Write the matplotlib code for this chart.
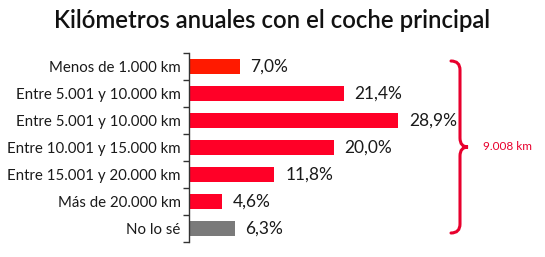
import matplotlib
matplotlib.use('Agg')
import matplotlib.pyplot as plt
from matplotlib.path import Path
from matplotlib.patches import PathPatch
import numpy as np

plt.rcParams['font.family'] = ['Lato', 'DejaVu Sans']

# Data
categories = ['Menos de 1.000 km', 'Entre 5.001 y 10.000 km', 'Entre 5.001 y 10.000 km',
              'Entre 10.001 y 15.000 km', 'Entre 15.001 y 20.000 km', 'Más de 20.000 km',
              'No lo sé']
values = [7.0, 21.4, 28.9, 20.0, 11.8, 4.6, 6.3]
value_labels = ['7,0%', '21,4%', '28,9%', '20,0%', '11,8%', '4,6%', '6,3%']
bar_colors = ['#ff1a00', '#ff0027', '#ff0027', '#ff0027', '#ff0027', '#ff0027', '#7a7a7a']
brace_label = '9.008 km'

W, H = 545, 257
fig = plt.figure(figsize=(W / 100, H / 100), dpi=100)

# axes placed in pixels: left edge 189, top 53, bottom 242
ax_left, ax_top, ax_bot = 189, 53, 242
ax_w = 231.4
ax = fig.add_axes([ax_left / W, 1 - ax_bot / H, ax_w / W, (ax_bot - ax_top) / H])

y = np.arange(len(categories))
ax.barh(y, values, height=0.56, color=bar_colors)
ax.set_xlim(0, 32)
ax.set_ylim(len(categories) - 0.5, -0.5)

for yi, v, lab in zip(y, values, value_labels):
    ax.text(v + 1.5, yi, lab, va='center', ha='left', fontsize=12.5, color='#1a1a1a')

# axis styling
for s in ['top', 'right', 'bottom']:
    ax.spines[s].set_visible(False)
ax.spines['left'].set_color('#333333')
ax.spines['left'].set_linewidth(1.0)
ax.set_xticks([])
ax.set_yticks(y)
ax.set_yticklabels(categories, fontsize=10.8, color='#1a1a1a')
ax.tick_params(axis='y', which='major', length=0, pad=6)
ax.set_yticks(np.arange(-0.5, len(categories), 1), minor=True)
ax.tick_params(axis='y', which='minor', length=4, width=1.0, color='#333333')

fig.text(0.5, 1 - 20 / H, 'Kilómetros anuales con el coche principal',
         ha='center', va='center', fontsize=17.2, fontweight='semibold', color='#111111')

# curly brace on the right
x0, x1, x2 = 451, 460, 468
yt, ym, yb = 61, 147, 233
pts = [(x0, yt), (x1, yt), (x1, yt + 9),
       (x1, ym - 9), (x1, ym), (x2, ym),
       (x1, ym), (x1, ym + 9),
       (x1, yb - 9), (x1, yb), (x0, yb)]
codes = [Path.MOVETO, Path.CURVE3, Path.CURVE3,
         Path.LINETO, Path.CURVE3, Path.CURVE3,
         Path.CURVE3, Path.CURVE3,
         Path.LINETO, Path.CURVE3, Path.CURVE3]
pts = [(px / W, 1 - py / H) for px, py in pts]
brace = PathPatch(Path(pts, codes), transform=fig.transFigure, fill=False,
                  edgecolor='#e8002d', linewidth=2.2, capstyle='round')
fig.patches.append(brace)
fig.text(483 / W, 1 - ym / H, brace_label, ha='left', va='center',
         fontsize=8.5, color='#e8002d')

fig.savefig('out.png', dpi=100)
